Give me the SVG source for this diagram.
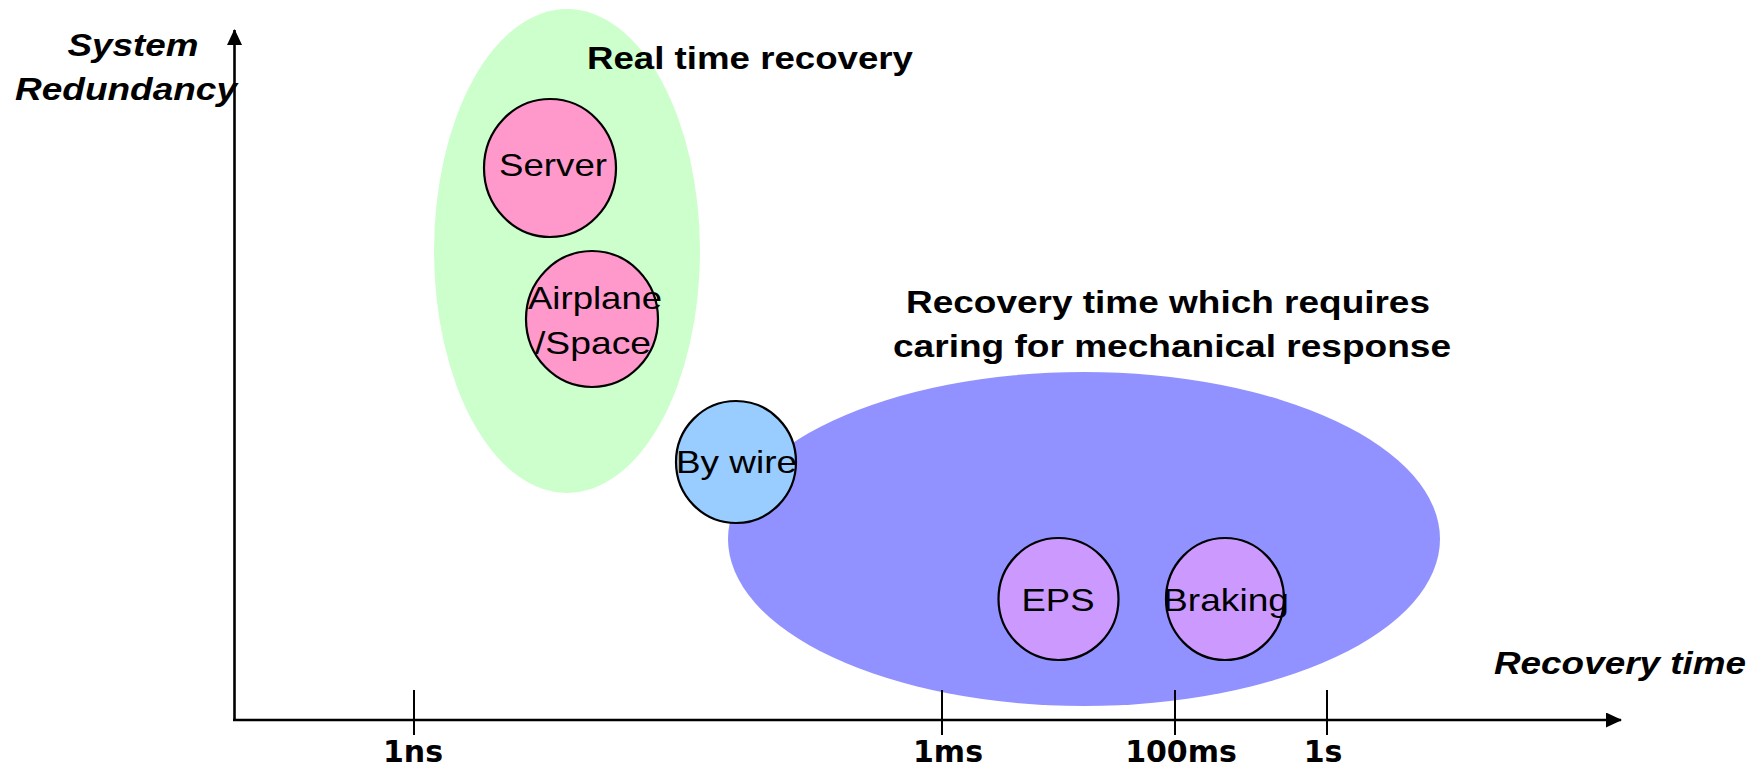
<svg xmlns="http://www.w3.org/2000/svg" width="1759" height="766" viewBox="0 0 1759 766">
  <style>
    .lbl { font-family: "Liberation Sans", Arial, sans-serif; font-size: 32px; fill: #000; text-anchor: middle; }
    .b { font-weight: bold; }
    .bi { font-weight: bold; font-style: italic; }
    .tick-lbl { font-family: "DejaVu Sans", Verdana, sans-serif; font-weight: bold; font-size: 30px; fill: #000; text-anchor: middle; }
    .node { stroke: #000; stroke-width: 2.2; }
    .axis { stroke: #000; stroke-width: 2.6; fill: none; }
    .tick { stroke: #000; stroke-width: 2; }
  </style>
  <defs>
    <marker id="arrow" viewBox="0 0 16 15" refX="15" refY="7.5" markerWidth="16" markerHeight="15" markerUnits="userSpaceOnUse" orient="auto">
      <path d="M0,0 L16,7.5 L0,15 Z" fill="#000"/>
    </marker>
  </defs>
  <rect width="1759" height="766" fill="#fff"/>

  <!-- background regions -->
  <g id="region-realtime">
    <ellipse cx="567" cy="251" rx="133" ry="242" fill="#CCFFCC"/>
    <text class="lbl b" x="750" y="69" textLength="326" lengthAdjust="spacingAndGlyphs">Real time recovery</text>
  </g>
  <g id="region-mechanical">
    <ellipse cx="1084" cy="539" rx="356" ry="167" fill="#9191FF"/>
    <text class="lbl b" x="1168" y="313" textLength="524" lengthAdjust="spacingAndGlyphs">Recovery time which requires</text>
    <text class="lbl b" x="1172" y="357" textLength="558" lengthAdjust="spacingAndGlyphs">caring for mechanical response</text>
  </g>

  <!-- axes and ticks -->
  <g id="connectors">
    <line class="axis" x1="234.5" y1="720" x2="234.5" y2="30" marker-end="url(#arrow)"/>
    <line class="axis" x1="233" y1="720" x2="1621" y2="720" marker-end="url(#arrow)"/>
    <line class="tick" x1="414" y1="690" x2="414" y2="735"/>
    <line class="tick" x1="942" y1="690" x2="942" y2="735"/>
    <line class="tick" x1="1175" y1="690" x2="1175" y2="735"/>
    <line class="tick" x1="1327" y1="690" x2="1327" y2="735"/>
  </g>

  <g id="axis-labels">
    <text class="lbl bi" x="133" y="56" textLength="131" lengthAdjust="spacingAndGlyphs">System</text>
    <text class="lbl bi" x="126" y="100" textLength="222" lengthAdjust="spacingAndGlyphs">Redundancy</text>
    <text class="lbl bi" x="1620" y="674" textLength="252" lengthAdjust="spacingAndGlyphs">Recovery time</text>
    <text class="tick-lbl" x="413" y="762">1ns</text>
    <text class="tick-lbl" x="948" y="762">1ms</text>
    <text class="tick-lbl" x="1181" y="762">100ms</text>
    <text class="tick-lbl" x="1323" y="762">1s</text>
  </g>

  <!-- application nodes -->
  <g id="node-server">
    <ellipse class="node" cx="550" cy="168" rx="66" ry="69" fill="#FF99CC"/>
    <text class="lbl" x="553" y="176" textLength="108" lengthAdjust="spacingAndGlyphs">Server</text>
  </g>
  <g id="node-airplane">
    <ellipse class="node" cx="592" cy="319" rx="66" ry="68" fill="#FF99CC"/>
    <text class="lbl" x="595" y="309" textLength="134" lengthAdjust="spacingAndGlyphs">Airplane</text>
    <text class="lbl" x="593" y="354" textLength="116" lengthAdjust="spacingAndGlyphs">/Space</text>
  </g>
  <g id="node-bywire">
    <ellipse class="node" cx="736" cy="462" rx="60" ry="61" fill="#99CCFF"/>
    <text class="lbl" x="736.5" y="473" textLength="121" lengthAdjust="spacingAndGlyphs">By wire</text>
  </g>
  <g id="node-eps">
    <ellipse class="node" cx="1058.5" cy="599" rx="60" ry="61" fill="#CC99FF"/>
    <text class="lbl" x="1058" y="611" textLength="73" lengthAdjust="spacingAndGlyphs">EPS</text>
  </g>
  <g id="node-braking">
    <ellipse class="node" cx="1225" cy="599" rx="59" ry="61" fill="#CC99FF"/>
    <text class="lbl" x="1226" y="611" textLength="126" lengthAdjust="spacingAndGlyphs">Braking</text>
  </g>
</svg>
